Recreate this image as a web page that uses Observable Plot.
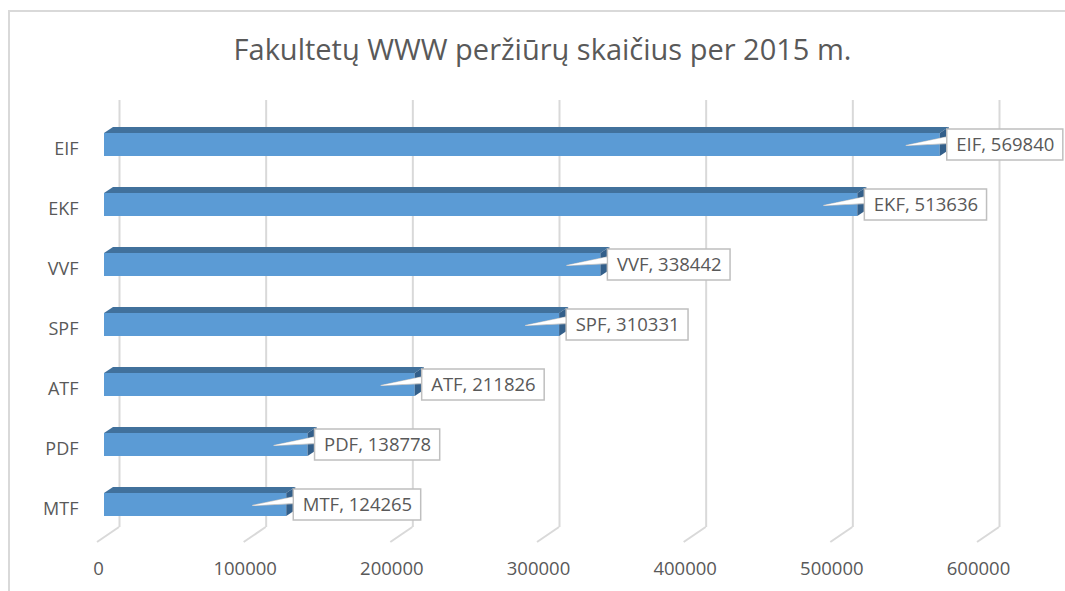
<!DOCTYPE html>
<html><head><meta charset="utf-8">
<script src="https://cdn.jsdelivr.net/npm/d3@7"></script>
<script src="https://cdn.jsdelivr.net/npm/@observablehq/plot@0.6"></script>
<style>
body{margin:0;background:#fff;}
#wrap{position:relative;width:1065px;height:591px;overflow:hidden;font-family:"Open Sans",sans-serif;background:#fff;}
#frame{position:absolute;left:8px;top:10px;width:1100px;height:700px;border-left:2px solid #d9d9d9;border-top:2px solid #d9d9d9;}
#title{position:absolute;left:20px;top:29px;width:1045px;text-align:center;font-size:29px;color:#595959;line-height:40px;white-space:nowrap;}
#chart{position:absolute;left:0;top:88px;}
</style></head><body>
<div id="wrap"><div id="frame"></div><div id="title">Fakultetų WWW peržiūrų skaičius per 2015 m.</div><div id="chart"></div></div>
<script>
const categories = ["EIF", "EKF", "VVF", "SPF", "ATF", "PDF", "MTF"];
const views = [569840, 513636, 338442, 310331, 211826, 138778, 124265];
const xTicks = [0, 100000, 200000, 300000, 400000, 500000, 600000];
const rows = categories.map((name, i) => ({name, value: views[i]}));

const LABEL_FONT = 18.5;
const ctx2d = document.createElement("canvas").getContext("2d");
ctx2d.font = `${LABEL_FONT}px "Open Sans"`;
const labelText = d => `${d.name}, ${d.value}`;

function floorRender(index, scales, values, dimensions) {
  const g = d3.create("svg:g");
  const yb = dimensions.height - dimensions.marginBottom;
  for (const i of index) {
    const x = values.x[i];
    g.append("line")
      .attr("x1", x + 15).attr("y1", yb)
      .attr("x2", x - 7).attr("y2", yb + 15)
      .attr("stroke", "#d9d9d9").attr("stroke-width", 2);
  }
  return g.node();
}

function bar3d(index, scales, values, dimensions, context, next) {
  const g = next(index, scales, values, dimensions, context);
  const sel = d3.select(g);
  const rects = Array.from(g.querySelectorAll("rect"));
  const extra = sel.append("g");
  rects.forEach((r, k) => {
    const d = rows[index[k]];
    const x = +r.getAttribute("x"), y = +r.getAttribute("y");
    const w = +r.getAttribute("width"), h = +r.getAttribute("height");
    const x2 = x + w, cy = y + h / 2;
    // top face
    extra.append("polygon")
      .attr("points", [[x, y], [x2, y], [x2 + 9, y - 6], [x + 9, y - 6]].join(" "))
      .attr("fill", "#41719c");
    // right side face
    extra.append("polygon")
      .attr("points", [[x2, y], [x2 + 9, y - 6], [x2 + 9, y + h - 6], [x2, y + h]].join(" "))
      .attr("fill", "#335f8a");
    // callout pointer
    const bx = x2 + 7;
    extra.append("polygon")
      .attr("points", [[bx + 2, cy - 8], [x2 - 34, cy + 1], [bx + 2, cy - 1]].join(" "))
      .attr("fill", "#ffffff").attr("stroke", "#c8c8c8").attr("stroke-width", 1.2);
    // callout box
    const tw = ctx2d.measureText(labelText(d)).width;
    extra.append("rect")
      .attr("x", bx).attr("y", cy - 15.5)
      .attr("width", tw + 18).attr("height", 31)
      .attr("fill", "#ffffff").attr("stroke", "#bfbfbf").attr("stroke-width", 1.5);
    // re-cover pointer base inside box
    extra.append("polygon")
      .attr("points", [[bx - 1, cy - 7.3], [x2 - 34, cy + 1], [bx - 1, cy - 1.7]].join(" "))
      .attr("fill", "#ffffff");
  });
  return g;
}

const chart = Plot.plot({
  width: 1065,
  height: 503,
  marginLeft: 104,
  marginRight: 81,
  marginTop: 12,
  marginBottom: 64,
  style: {fontFamily: "'Open Sans', sans-serif", fontSize: "18px", color: "#595959", background: "transparent", overflow: "visible"},
  x: {domain: [0, 600000]},
  y: {domain: categories, range: [24.17, 448.83], paddingInner: 0.62, paddingOuter: 0.31},
  marks: [
    Plot.ruleX(xTicks, {dx: 15, stroke: "#d9d9d9", strokeWidth: 2}),
    Plot.ruleX(xTicks, {stroke: "#d9d9d9", render: floorRender}),
    Plot.barX(rows, {x: "value", y: "name", fill: "#5b9bd5", render: bar3d}),
    Plot.text(rows, {x: "value", y: "name", text: labelText, textAnchor: "start", dx: 16, fill: "#595959", fontSize: LABEL_FONT}),
    Plot.axisY({tickSize: 0, tickPadding: 26, dy: 4, fontSize: 18, label: null, fill: "#595959"}),
    Plot.axisX({ticks: xTicks, tickSize: 0, tickPadding: 34, dx: -6, tickFormat: d => String(d), label: null, fontSize: 18.5, fill: "#595959"})
  ]
});
document.getElementById("chart").appendChild(chart);
</script>
</body></html>
